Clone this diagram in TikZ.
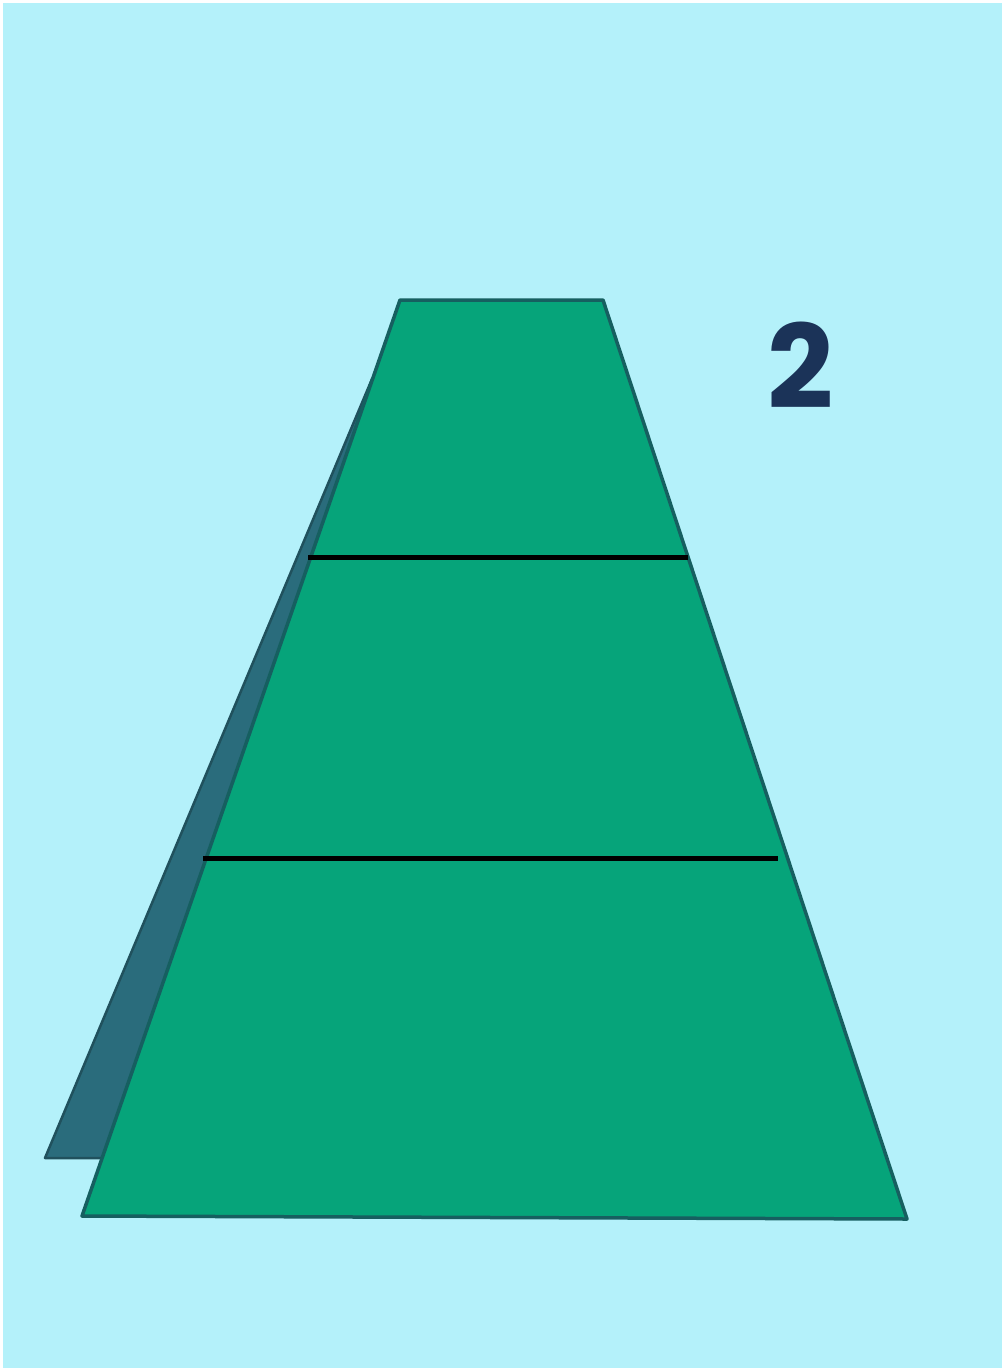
\documentclass[tikz,border=0pt]{standalone}
\usepackage{fontspec}
\setmainfont{Liberation Sans}
\newfontfamily\labelfont{Poppins}
\definecolor{bgcyan}{HTML}{B4F1FA}
\definecolor{trapgreen}{HTML}{06A47A}
\definecolor{trapedge}{HTML}{165F60}
\definecolor{shadowteal}{HTML}{2A6C7C}
\definecolor{labelnavy}{HTML}{1B3358}
\tikzset{
  trapezoid face/.style={fill=trapgreen, draw=trapedge, line width=3.5pt, line join=round},
  shadow face/.style={fill=shadowteal, draw=shadowteal!75!black, line width=2.5pt, line join=round},
  cut line/.style={draw=black, line width=5pt},
  big label/.style={inner sep=0pt, anchor=base, text=labelnavy, font=\labelfont\bfseries\fontsize{116}{116}\selectfont}
}
\begin{document}
\begin{tikzpicture}[x=1pt,y=-1pt]
\useasboundingbox (0,0) rectangle (1002,1368);
\fill[white] (0,0) rectangle (1002,1368);
\fill[bgcyan] (3,3) rectangle (1002,1368);
% shadow behind the trapezoid
\path[shadow face] (372,379) -- (45,1158) -- (110,1158) -- cycle;
% main trapezoid
\path[trapezoid face] (400,300) -- (603,300) -- (907,1219) -- (82,1216) -- cycle;
% dividing lines
\coordinate (l1a) at (308,557);
\coordinate (l1b) at (688,557);
\coordinate (l2a) at (203,858);
\coordinate (l2b) at (778,858);
\draw[cut line] (l1a) -- (l1b);
\draw[cut line] (l2a) -- (l2b);
% label
\node[big label] (num) at (801,408) {2};
\end{tikzpicture}
\end{document}
